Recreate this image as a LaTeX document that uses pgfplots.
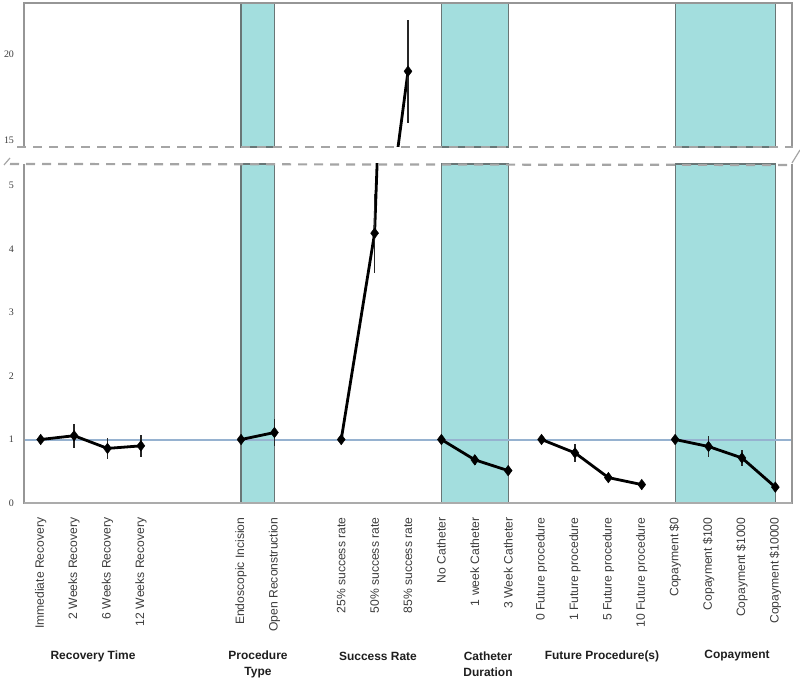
\documentclass[border=0pt]{standalone}
\usepackage{pgfplots}
\pgfplotsset{compat=1.18}
\usepackage{pgfplotstable}
\usepackage{fontspec}
\setmainfont{Liberation Sans}
\newfontfamily\tickserif{Liberation Serif}
\definecolor{shade}{RGB}{163,222,222}
\definecolor{shadeedge}{RGB}{105,118,118}
\definecolor{oneline}{RGB}{150,178,208}
\definecolor{framec}{RGB}{150,150,150}
\definecolor{dashc}{RGB}{165,165,165}
\definecolor{ticktext}{RGB}{60,60,60}

% x = attribute level position, y = odds ratio, e = error half-width
\pgfplotstableread{
x y e
0 1.00 0
1 1.06 0.19
2 0.86 0.16
3 0.90 0.17
}\tRec
\pgfplotstableread{
x y e
6 1.00 0
7 1.11 0.21
}\tProc
\pgfplotstableread{
x y e
9 1.00 0
10 4.25 0.62
11 19.0 3.0
}\tSucc
\pgfplotstableread{
x y e
12 1.00 0
13 0.68 0.08
14 0.51 0
}\tCath
\pgfplotstableread{
x y e
15 1.00 0
16 0.79 0.14
17 0.40 0
18 0.29 0
}\tFut
\pgfplotstableread{
x y e
19 1.00 0
20 0.89 0.16
21 0.71 0.12
22 0.25 0
}\tCopay

\pgfplotsset{
  base/.style={scale only axis, width=768bp, xmin=-0.5, xmax=22.5,
    axis line style={draw=none}, major tick length=0pt, clip mode=individual,
    /pgf/number format/assume math mode=true,
    yticklabel style={font=\fontsize{10}{12}\tickserif, text=ticktext, xshift=-6.5bp}},
  ser/.style={black, line width=2.8bp, mark=diamond*, mark size=5.3bp,
    mark options={fill=black, solid, line width=0.4bp},
    error bars/.cd, y dir=both, y explicit, error mark=none,
    error bar style={line width=1.7bp, black!85}},
}
\newcommand\plotall{%
  \addplot[ser] table[x=x,y=y,y error=e]{\tRec};
  \addplot[ser] table[x=x,y=y,y error=e]{\tProc};
  \addplot[ser] table[x=x,y=y,y error=e]{\tSucc};
  \addplot[ser] table[x=x,y=y,y error=e]{\tCath};
  \addplot[ser] table[x=x,y=y,y error=e]{\tFut};
  \addplot[ser] table[x=x,y=y,y error=e]{\tCopay};
}
\newcommand\shades[2]{%
  \filldraw[fill=shade, draw=shadeedge, line width=1.1bp] (axis cs:6,#1) rectangle (axis cs:7,#2);
  \filldraw[fill=shade, draw=shadeedge, line width=1.1bp] (axis cs:12,#1) rectangle (axis cs:14,#2);
  \filldraw[fill=shade, draw=shadeedge, line width=1.1bp] (axis cs:19,#1) rectangle (axis cs:22,#2);
}

\begin{document}
\begin{tikzpicture}[x=1bp,y=1bp]
\useasboundingbox (0,0) rectangle (800,681);

% lower panel
\begin{axis}[base, at={(24bp,178bp)}, anchor=south west, height=339bp,
  ymin=0, ymax=5.34, ytick={0,1,2,3,4,5},
  xtick={0,1,2,3,6,7,9,10,11,12,13,14,15,16,17,18,19,20,21,22},
  xticklabels={Immediate Recovery, 2 Weeks Recovery, 6 Weeks Recovery, 12 Weeks Recovery,
    Endoscopic Incision, Open Reconstruction,
    25\% success rate, 50\% success rate, 85\% success rate,
    No Catheter, 1 week Catheter, 3 Week Catheter,
    0 Future procedure, 1 Future procedure, 5 Future procedure, 10 Future procedure,
    Copayment \$0, Copayment \$100, Copayment \$1000, Copayment \$10000},
  xticklabel style={rotate=90, anchor=east, font=\fontsize{12.2}{14}\selectfont, text=ticktext},
  xticklabel shift=11bp]
  \shades{0}{5.34}
  \draw[oneline, line width=2bp] (axis cs:-0.5,1) -- (axis cs:22.5,1);
  \plotall
\end{axis}

% upper panel
\begin{axis}[base, at={(24bp,534bp)}, anchor=south west, height=144bp,
  ymin=14.6, ymax=22.97, ytick={15,20}, xtick=\empty]
  \shades{14.6}{22.97}
  \plotall
\end{axis}

% frames
\draw[framec, line width=1.6bp] (24,534) -- (24,678) -- (792,678) -- (792,534);
\draw[framec, line width=1.6bp] (24,517) -- (24,178) -- (792,178) -- (792,517);
\draw[framec!80, line width=2.4bp] (24,178) -- (792,178);
% break
\draw[dashc, line width=1.8bp, dash pattern=on 9bp off 7bp] (17,534) -- (793,534);
\draw[dashc, line width=2.2bp, dash pattern=on 9bp off 7bp] (10,517) -- (790,516);
\draw[dashc, line width=1.2bp] (4,516) -- (10,523);
\draw[dashc, line width=1.2bp] (792,518) -- (800,531);

% group labels
\begin{scope}[every node/.style={font=\fontsize{12}{16}\selectfont\bfseries, text={rgb,255:red,30;green,30;blue,30}, align=center}]
\node at (93,25) {Recovery Time};
\node at (258,17) {Procedure\\Type};
\node at (378,25) {Success Rate};
\node at (488,17) {Catheter\\Duration};
\node at (602,25) {Future Procedure(s)};
\node at (737,25) {Copayment};
\end{scope}
\end{tikzpicture}
\end{document}
